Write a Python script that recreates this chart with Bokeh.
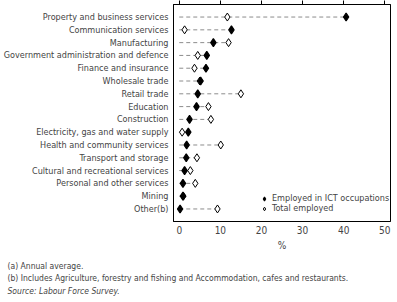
from bokeh.plotting import figure
from bokeh.models import (FactorRange, Range1d, LinearAxis, Legend, LegendItem,
                          Title, FixedTicker, ColumnDataSource)
from bokeh.embed import file_html
from bokeh.resources import INLINE

industries = [
    "Property and business services",
    "Communication services",
    "Manufacturing",
    "Government administration and defence",
    "Finance and insurance",
    "Wholesale trade",
    "Retail trade",
    "Education",
    "Construction",
    "Electricity, gas and water supply",
    "Health and community services",
    "Transport and storage",
    "Cultural and recreational services",
    "Personal and other services",
    "Mining",
    "Other(b)",
]
ict_employed = [40.6, 12.7, 8.3, 6.7, 6.5, 5.2, 4.5, 4.2, 2.5, 2.2, 1.8, 1.7, 1.3, 0.9, 0.9, 0.2]
total_employed = [11.7, 1.3, 12.0, 4.5, 3.7, 5.0, 15.0, 7.1, 7.7, 0.7, 10.1, 4.3, 2.7, 3.9, 1.0, 9.3]
x_ticks = [0, 10, 20, 30, 40, 50]
footnotes = [
    "(a) Annual average.",
    "(b) Includes Agriculture, forestry and fishing and Accommodation, cafes and restaurants.",
]
source_note = "Source: Labour Force Survey."
legend_labels = ["Employed in ICT occupations", "Total employed"]

FONT = "DejaVu Sans Condensed"

src = ColumnDataSource(dict(
    industry=industries,
    ict=ict_employed,
    total=total_employed,
    zero=[0] * len(industries),
    top=[max(a, b) for a, b in zip(ict_employed, total_employed)],
))

p = figure(
    y_range=FactorRange(*reversed(industries), range_padding=0.06, range_padding_units="percent"),
    x_range=Range1d(-1.4, 51.4),
    frame_width=217, frame_height=217,
    min_border_left=0, min_border_right=4, min_border_top=0, min_border_bottom=0,
    output_backend="svg", toolbar_location=None,
)
p.xgrid.visible = False
p.ygrid.visible = False
p.outline_line_color = "black"
p.outline_line_width = 1
p.background_fill_color = "white"
p.border_fill_color = "white"

p.segment(x0="zero", x1="top", y0="industry", y1="industry", source=src,
          line_color="#8c8c8c", line_dash="4 3", line_width=1)
r_total = p.scatter(x="total", y="industry", source=src, marker="diamond", size=8,
                    fill_color="white", line_color="black", line_width=1)
r_ict = p.scatter(x="ict", y="industry", source=src, marker="diamond", size=8,
                  fill_color="black", line_color="black", line_width=1.2)

# bottom axis
xa = p.xaxis[0]
xa.ticker = FixedTicker(ticks=x_ticks)
xa.major_tick_out = 0
xa.major_tick_in = 0
xa.minor_tick_line_color = None
xa.axis_line_color = "black"
xa.major_label_text_font = FONT
xa.major_label_text_font_size = "10px"
xa.major_label_standoff = 4
xa.axis_label = "%"
xa.axis_label_text_font = FONT
xa.axis_label_text_font_size = "10px"
xa.axis_label_text_font_style = "normal"
xa.axis_label_standoff = 3

# top axis: ticks only
ta = LinearAxis(ticker=FixedTicker(ticks=x_ticks), major_tick_out=4, major_tick_in=0,
                minor_tick_line_color=None, major_label_text_color=None,
                major_label_text_font_size="1px", major_label_standoff=0,
                axis_line_color="black")
p.add_layout(ta, "above")

# left category axis
ya = p.yaxis[0]
ya.major_tick_out = 0
ya.major_tick_in = 0
ya.minor_tick_line_color = None
ya.axis_line_color = "black"
ya.major_label_text_font = FONT
ya.major_label_text_font_size = "9px"
ya.major_label_standoff = 5

legend = Legend(items=[LegendItem(label=legend_labels[0], renderers=[r_ict]),
                       LegendItem(label=legend_labels[1], renderers=[r_total])],
                location=(86, 8), orientation="vertical",
                glyph_width=10, glyph_height=9, label_height=9, label_standoff=3,
                padding=0, spacing=0, margin=0,
                border_line_color=None, background_fill_alpha=0,
                label_text_font=FONT, label_text_font_size="9px")
p.add_layout(legend, "center")

# small spacer between the axis label and the footnotes
p.add_layout(Title(text=" ", text_font_size="1px", standoff=2), "below")

standoffs = [0, 0, 2]
for t, s in zip(footnotes + [source_note], standoffs):
    title = Title(text=t, align="left", text_font=FONT, text_font_size="8.5px",
                  text_font_style="italic" if t == source_note else "normal",
                  offset=-166, standoff=s)
    p.add_layout(title, "below")

open("out.html", "w").write(file_html(p, INLINE))
